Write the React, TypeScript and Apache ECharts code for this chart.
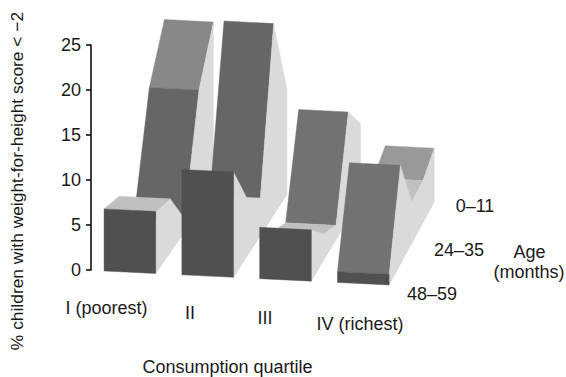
import React, { useEffect, useRef } from "react";
import * as echarts from "echarts";

const quartiles = ["I (poorest)", "II", "III", "IV (richest)"];
const yTicks = { min: 0, max: 25, interval: 5 };
// prevalence by age band, front (48–59) to back (0–11)
const poorest = [6.9, 6.0, 1.5, 13.5, 18.75];
const second = [11.7, 6.5, 4.2, 21.3, 11.7];
const third = [5.7, 2.9, 1.6, 11.9, 8.3];
const richest = [1.2, 11.0, 4.6, 4.7, 6.0];
const ageLabels = ["0–11", "24–35", "48–59"];
const yTitle = "% children with weight-for-height score < −2";
const xTitle = "Consumption quartile";
const ageTitle = ["Age", "(months)"];

const shadeFor = (rise: number) => {
  if (rise <= 0.5) return "#c0c0c0";
  if (rise <= 3) return "#999999";
  if (rise <= 7) return "#888888";
  if (rise <= 11) return "#727272";
  return "#666666";
};

const FONT = '"Liberation Sans", Arial, sans-serif';
const label = (text: string, x: number, y: number, extra: any = {}, size = 18) => ({
  type: "text",
  x,
  y,
  silent: true,
  ...extra,
  style: { text, fill: "#1a1a1a", font: `${size}px ${FONT}`, textAlign: "center", textVerticalAlign: "middle" },
});

export default function App() {
  const ref = useRef<HTMLDivElement>(null);
  useEffect(() => {
    const chart = echarts.init(ref.current!, undefined, { renderer: "svg" });
    const rows = [poorest, second, third, richest].map((v, q) => [q, ...v]);

    const renderItem = (_: any, api: any) => {
      const q = api.value(0);
      const vals = [1, 2, 3, 4, 5].map((i) => api.value(i));
      const band = api.size([1, 0])[0];
      const cx = api.coord([q, 0])[0];
      const y0 = api.coord([q, 0])[1];
      const w = band * 0.665;
      const left = cx - w / 2;
      const origin = api.coord([0, 0])[0] - band / 2 + 13;
      const floorAt = (X: number, d: number) => {
        const stepX = 15.1 - (X - origin) * 0.0134;
        return [X + d * stepX, y0 + 1 + (X - origin) * 0.049 - 20.7 * d];
      };
      const point = (X: number, d: number, v: number) => {
        const f = floorAt(X, d);
        return [f[0], f[1] - (y0 - api.coord([q, v])[1])];
      };
      const poly = (points: number[][], fill: string) => ({
        type: "polygon",
        shape: { points },
        style: { fill, stroke: fill, lineWidth: 0.4 },
      });
      const children: any[] = [];
      for (let d = 3; d >= 0; d--) {
        const a = point(left, d, vals[d]);
        const b = point(left + w, d, vals[d]);
        const c = point(left + w, d + 1, vals[d + 1]);
        const e = point(left, d + 1, vals[d + 1]);
        if (c[1] < b[1]) children.push(poly([a, b, c, e], shadeFor(vals[d + 1] - vals[d])));
      }
      const sideTop = vals.map((v, d) => point(left + w, d, v));
      children.push(poly([...sideTop, floorAt(left + w, 4), floorAt(left + w, 0)], "#dadada"));
      children.push(
        poly(
          [point(left, 0, vals[0]), point(left + w, 0, vals[0]), floorAt(left + w, 0), floorAt(left, 0)],
          "#505050"
        )
      );
      return { type: "group", children };
    };

    chart.setOption({
      animation: false,
      grid: { left: 91, right: 163.8, top: 45, bottom: 107, containLabel: false },
      xAxis: { type: "category", data: quartiles, show: false },
      yAxis: {
        type: "value",
        ...yTicks,
        splitLine: { show: false },
        axisLine: { show: true, lineStyle: { color: "#000", width: 1.5 } },
        axisTick: { show: true, length: 5, lineStyle: { color: "#000", width: 1.5 } },
        axisLabel: { color: "#1a1a1a", fontSize: 18, fontFamily: "Liberation Sans", margin: 10 },
      },
      series: [
        {
          type: "custom",
          renderItem,
          data: rows,
          encode: { x: 0, y: 1 },
          clip: false,
          silent: true,
        },
      ],
      graphic: [
        label(yTitle, 17, 181, { rotation: Math.PI / 2 }, 17.4),
        label(quartiles[0], 106.5, 307.5),
        label(quartiles[1], 190, 312.5),
        label(quartiles[2], 265, 318),
        label(quartiles[3], 360, 324),
        label(xTitle, 227.5, 367),
        label(ageLabels[0], 475, 206),
        label(ageLabels[1], 459, 249.5),
        label(ageLabels[2], 432, 294),
        label(ageTitle[0], 529.5, 252),
        label(ageTitle[1], 529, 272),
      ],
    });
    return () => chart.dispose();
  }, []);
  return <div ref={ref} style={{ width: 566, height: 377, position: "absolute", left: 0, top: 0 }} />;
}
